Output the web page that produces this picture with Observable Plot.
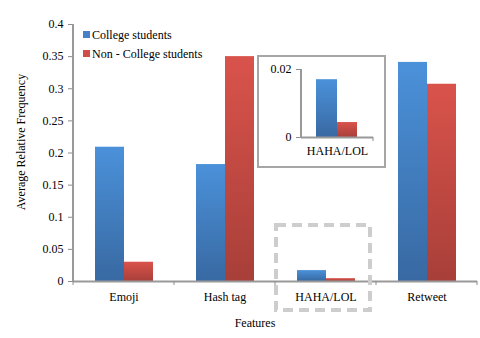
<!DOCTYPE html>
<html><head><meta charset="utf-8">
<script src="https://cdn.jsdelivr.net/npm/d3@7"></script>
<script src="https://cdn.jsdelivr.net/npm/@observablehq/plot@0.6"></script>
<style>
body{margin:0;background:#fff;}
#wrap{position:relative;width:480px;height:338px;font-family:"Liberation Serif","Times New Roman",Times,Tinos,"DejaVu Serif",serif;overflow:hidden;}
#wrap svg text{font-family:"Liberation Serif","Times New Roman",Times,Tinos,"DejaVu Serif",serif;}
#inset{position:absolute;left:257px;top:55px;width:125px;height:109px;border:2px solid #a6a6a6;background:#fff;}
#legend{position:absolute;left:83px;top:26px;font-size:12px;line-height:19px;color:#000;}
#legend .sw{display:inline-block;width:7px;height:7px;margin-right:2px;vertical-align:1px;}
svg{display:block;}
</style></head><body>
<svg width="0" height="0" style="position:absolute"><defs>
<linearGradient id="gBlue" x1="0" y1="0" x2="0" y2="1"><stop offset="0" stop-color="#4b91da"/><stop offset="1" stop-color="#3869a2"/></linearGradient>
<linearGradient id="gRed" x1="0" y1="0" x2="0" y2="1"><stop offset="0" stop-color="#d9534b"/><stop offset="1" stop-color="#a83f39"/></linearGradient>
</defs></svg>
<div id="wrap"><div id="inset"></div><div id="legend"></div></div>
<script>
const categories = ["Emoji", "Hash tag", "HAHA/LOL", "Retweet"];
const series = ["College students", "Non - College students"];
const college = [0.209, 0.182, 0.017, 0.341];
const nonCollege = [0.030, 0.350, 0.0044, 0.307];
const yTicks = [0, 0.05, 0.1, 0.15, 0.2, 0.25, 0.3, 0.35, 0.4];
const insetCategory = "HAHA/LOL";
const insetTicks = [0, 0.02];
const yTitle = "Average Relative Frequency";
const xTitle = "Features";
const swatchColors = ["#4580c8", "#cf4f48"];
const serifFont = '"Liberation Serif", "Times New Roman", Times, Tinos, "DejaVu Serif", serif';

const blueData = categories.map((c, i) => ({cat: c, s: series[0], v: college[i]}));
const redData = categories.map((c, i) => ({cat: c, s: series[1], v: nonCollege[i]}));
const fmt = d => String(d);

const main = Plot.plot({
  width: 480, height: 338,
  marginLeft: 73, marginRight: 3, marginTop: 24, marginBottom: 57,
  style: {fontFamily: serifFont, fontSize: "12px", background: "transparent", color: "#000"},
  x: {domain: categories, padding: 0},
  y: {domain: [0, 0.4]},
  marks: [
    Plot.barY(blueData, {x: "cat", y: "v", fill: "url(#gBlue)", insetLeft: 22, insetRight: 50}),
    Plot.barY(redData, {x: "cat", y: "v", fill: "url(#gRed)", insetLeft: 51, insetRight: 21}),
    Plot.axisY(yTicks, {tickSize: 5, tickPadding: 5, tickFormat: fmt, stroke: "#8c8c8c", fill: "#000", fontSize: 12, label: null}),
    Plot.axisX({tickSize: 0, tickPadding: 11, fill: "#000", fontSize: 12, label: null}),
    Plot.ruleY([0], {stroke: "#999", strokeWidth: 2})
  ]
});
document.getElementById("wrap").prepend(main);

{
  const xs = main.scale("x"), ys = main.scale("y");
  const svg = d3.select(main);
  const x0 = xs.range[0], x1 = xs.range[1];
  const yb = ys.apply(0), yt = ys.apply(0.4);
  svg.append("line").attr("x1", x0).attr("x2", x0).attr("y1", yt).attr("y2", yb + 1)
    .attr("stroke", "#999").attr("stroke-width", 2);
  const bounds = categories.map(c => xs.apply(c)).concat([x1]);
  svg.append("g").selectAll("line").data(bounds).join("line")
    .attr("x1", d => d).attr("x2", d => d).attr("y1", yb).attr("y2", yb + 4)
    .attr("stroke", "#8c8c8c").attr("stroke-width", 1);
  const bx = xs.apply(insetCategory);
  svg.append("rect").attr("x", bx + 1).attr("y", yb - 56).attr("width", xs.bandwidth - 7).attr("height", 85)
    .attr("fill", "none").attr("stroke", "#cdcdcd").attr("stroke-width", 4).attr("stroke-dasharray", "10,6");
  svg.append("text").attr("transform", "translate(21,142) rotate(-90)").attr("text-anchor", "middle")
    .attr("dy", "0.35em").attr("font-size", 12).text(yTitle);
  svg.append("text").attr("x", 255).attr("y", 327).attr("text-anchor", "middle")
    .attr("font-size", 12).text(xTitle);
}

const inset = Plot.plot({
  width: 125, height: 109,
  marginLeft: 42, marginRight: 11, marginTop: 12, marginBottom: 29,
  style: {fontFamily: serifFont, fontSize: "12px", background: "transparent", color: "#000"},
  x: {domain: [insetCategory], padding: 0},
  y: {domain: [0, 0.02]},
  marks: [
    Plot.barY(blueData.filter(d => d.cat === insetCategory), {x: "cat", y: "v", fill: "url(#gBlue)", insetLeft: 15, insetRight: 36}),
    Plot.barY(redData.filter(d => d.cat === insetCategory), {x: "cat", y: "v", fill: "url(#gRed)", insetLeft: 36, insetRight: 16}),
    Plot.axisY(insetTicks, {tickSize: 5, tickPadding: 5, tickFormat: fmt, stroke: "#8c8c8c", fill: "#000", fontSize: 12, label: null}),
    Plot.axisX({tickSize: 0, tickPadding: 9, fill: "#000", fontSize: 12, label: null}),
    Plot.ruleY([0], {stroke: "#999", strokeWidth: 2})
  ]
});
document.getElementById("inset").appendChild(inset);
{
  const xs = inset.scale("x"), ys = inset.scale("y");
  const svg = d3.select(inset);
  const x0 = xs.range[0], x1 = xs.range[1];
  svg.append("line").attr("x1", x0).attr("x2", x0).attr("y1", ys.apply(0.02)).attr("y2", ys.apply(0) + 1)
    .attr("stroke", "#999").attr("stroke-width", 2);
  svg.append("line").attr("x1", x1).attr("x2", x1).attr("y1", ys.apply(0)).attr("y2", ys.apply(0) + 4)
    .attr("stroke", "#8c8c8c");
}

const legend = d3.select("#legend");
series.forEach((s, i) => {
  const row = legend.append("div");
  row.append("span").attr("class", "sw").style("background", swatchColors[i]);
  row.append("span").text(s);
});
</script>
</body></html>
